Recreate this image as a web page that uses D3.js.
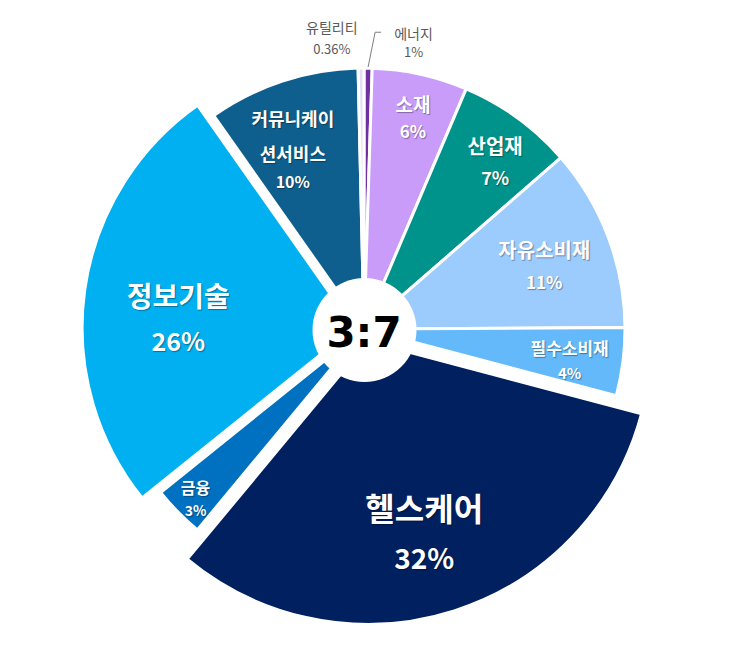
<!DOCTYPE html>
<html>
<head>
<meta charset="utf-8">
<script src="https://cdn.jsdelivr.net/npm/d3@7"></script>
<style>
  html, body { margin: 0; padding: 0; background: #fff; }
  text { font-family: "Noto Sans CJK KR", "Noto Sans", sans-serif; }
  .in-label { fill: #fff; font-weight: bold; text-shadow: 1px 1px 1px rgba(0,0,0,0.35); }
  .out-label { fill: #595959; }
</style>
</head>
<body>
<div id="chart"></div>
<script>
// sector weights (clockwise from 12 o'clock), slice sizes as drawn in the picture
const sectors = ["에너지", "소재", "산업재", "자유소비재", "필수소비재", "헬스케어", "금융", "정보기술", "커뮤니케이션서비스", "유틸리티"];
const shares = [0.5, 5.9, 7.2, 11.3, 4.2, 31.9, 3.2, 26, 9.4, 0.36];
const shareLabels = ["1%", "6%", "7%", "11%", "4%", "32%", "3%", "26%", "10%", "0.36%"];
const nameLines = [["에너지"], ["소재"], ["산업재"], ["자유소비재"], ["필수소비재"], ["헬스케어"], ["금융"], ["정보기술"], ["커뮤니케이", "션서비스"], ["유틸리티"]];
const centerText = "3:7";

// styling
const colors = ["#7030A0", "#C99CFA", "#00938C", "#9CCBFD", "#63B9FA", "#002060", "#0070C0", "#00B0F0", "#0F5F8E", "#E4DFF5"];
const baseR = 261;
const outerR = [baseR, baseR, baseR, baseR, baseR, 283, baseR, 272, baseR, baseR];
const explode = [0, 0, 0, 0, 0, 13, 0, 10, 0, 0];
// label anchor in polar coords around the pie centre: [radius, degrees]
const labelPolar = [[291, 9.8], [218, 13], [213, 38], [191, 70.7], [208, 98.7], [212, 163.5], [239, 224.8], [186, 273.5], [190, 338], [293, 353.7]];
// font sizes: [name, pct] and line offsets
const labelStyle = [
  { size: [14, 13], dy: [-9.5, 9.5], outside: true },
  { size: [19, 17], dy: [-13.5, 13.5] },
  { size: [20, 18], dy: [-16, 16] },
  { size: [20, 17], dy: [-16, 16] },
  { size: [17, 15], dy: [-12.5, 12.5] },
  { size: [32, 28], dy: [-25, 25] },
  { size: [16, 14], dy: [-11.5, 11.5] },
  { size: [28, 25], dy: [-22.5, 22.5] },
  { size: [18, 16], dy: [-35, 0, 28] },
  { size: [14, 13], dy: [-10.5, 10.5], outside: true }
];

const width = 732, height = 645;
const cx = 364, cy = 329;

const svg = d3.select("#chart")
  .append("svg")
  .attr("width", width)
  .attr("height", height);

const g = svg.append("g").attr("transform", "translate(" + cx + "," + cy + ")");

const data = sectors.map((s, i) => ({ sector: s, value: shares[i], i: i }));
const pie = d3.pie().value(d => d.value).sort(null).startAngle(0).endAngle(2 * Math.PI);
const arcs = pie(data);

// slices
g.selectAll("path.slice")
  .data(arcs)
  .join("path")
  .attr("class", "slice")
  .attr("d", d => d3.arc().innerRadius(0).outerRadius(outerR[d.data.i])(d))
  .attr("transform", d => {
    const mid = (d.startAngle + d.endAngle) / 2;
    const p = d3.pointRadial(mid, explode[d.data.i]);
    return "translate(" + p[0] + "," + p[1] + ")";
  })
  .attr("fill", d => colors[d.data.i])
  .attr("stroke", "#fff")
  .attr("stroke-width", 3)
  .attr("stroke-linejoin", "miter");

// centre disc
g.append("circle")
  .attr("cx", 0.5)
  .attr("cy", 1)
  .attr("r", 52)
  .attr("fill", "#fff");

g.append("text")
  .attr("x", 0)
  .attr("y", 3)
  .attr("text-anchor", "middle")
  .attr("dominant-baseline", "central")
  .style("font-family", "'DejaVu Sans', 'Noto Sans', sans-serif")
  .style("font-weight", "bold")
  .style("font-size", "42px")
  .attr("fill", "#000")
  .text(centerText);

// labels
const labels = g.selectAll("g.label")
  .data(arcs)
  .join("g")
  .attr("class", "label")
  .attr("transform", d => {
    const lp = labelPolar[d.data.i];
    const p = d3.pointRadial(lp[1] * Math.PI / 180, lp[0]);
    return "translate(" + p[0] + "," + p[1] + ")";
  });

labels.each(function (d) {
  const i = d.data.i;
  const st = labelStyle[i];
  const lines = nameLines[i].concat([shareLabels[i]]);
  d3.select(this)
    .selectAll("text")
    .data(lines)
    .join("text")
    .attr("class", st.outside ? "out-label" : "in-label")
    .attr("text-anchor", "middle")
    .attr("dominant-baseline", "central")
    .attr("y", (t, k) => st.dy[k])
    .style("font-size", (t, k) => (k === lines.length - 1 ? st.size[1] : st.size[0]) + "px")
    .text(t => t);
});

// leader line for the energy slice
const en = arcs[0];
const enMid = (en.startAngle + en.endAngle) / 2;
const p0 = d3.pointRadial(enMid, outerR[0] + 1);
const lp0 = d3.pointRadial(labelPolar[0][1] * Math.PI / 180, labelPolar[0][0]);
const elbowY = lp0[1] - 10;
g.append("path")
  .attr("d", d3.line()([p0, [p0[0] + 7, elbowY], [p0[0] + 13, elbowY]]))
  .attr("fill", "none")
  .attr("stroke", "#7f7f7f")
  .attr("stroke-width", 1);
</script>
</body>
</html>
